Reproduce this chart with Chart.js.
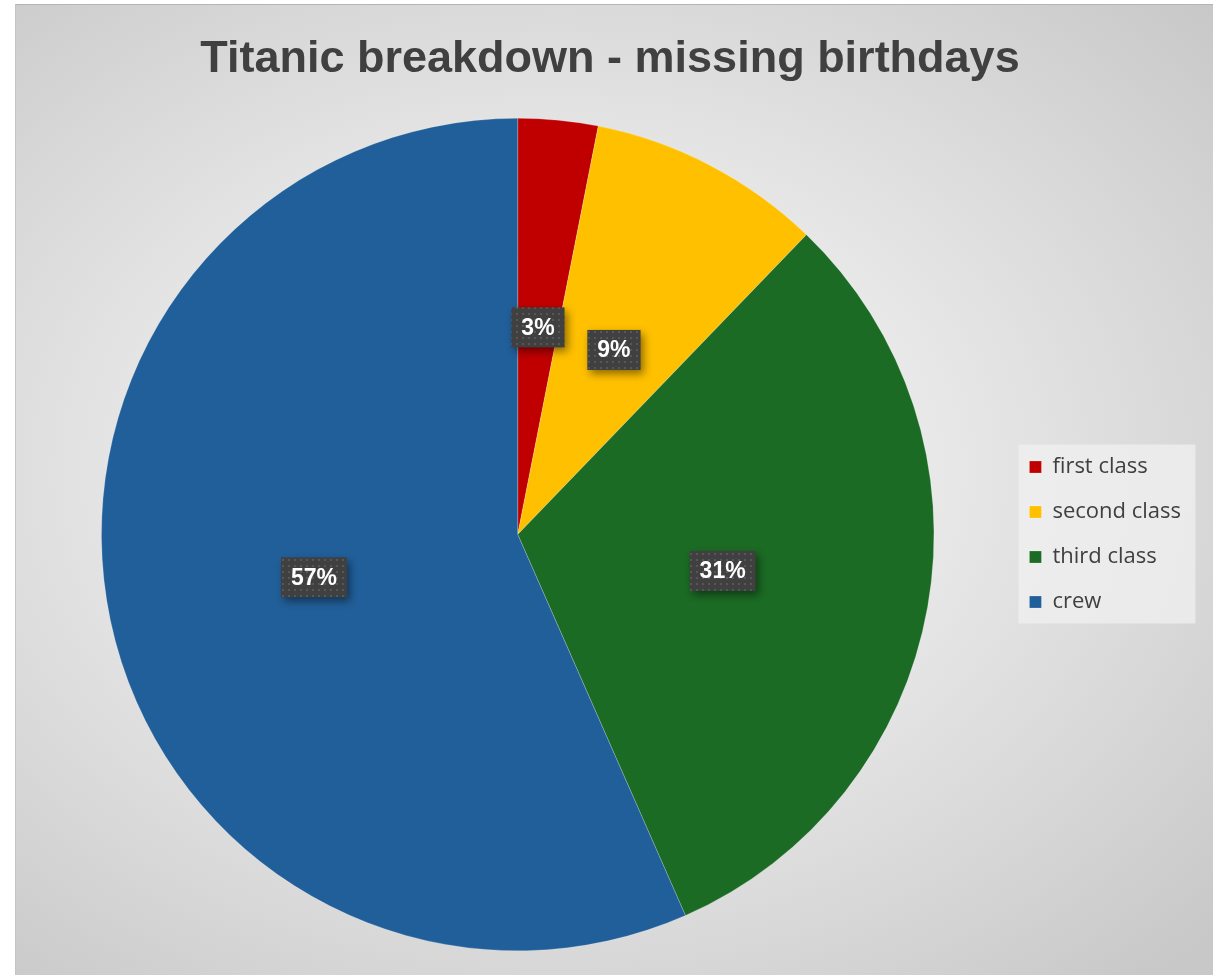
<!DOCTYPE html>
<html>
<head>
<meta charset="utf-8">
<script src="https://cdn.jsdelivr.net/npm/chart.js@4"></script>
<style>
  html, body { margin: 0; padding: 0; background: #fff; }
  #panel {
    position: absolute; left: 15px; top: 4px; width: 1198px; height: 971px;
    background: radial-gradient(ellipse 75% 70% at 45% 48%, #f4f4f4 0%, #ececec 35%, #d9d9d9 70%, #c8c8c8 100%);
    border-top: 1px solid #b4b4b4;
    border-left: 1px solid #c4c4c4;
    box-sizing: border-box;
  }
</style>
</head>
<body>
<div id="panel"><canvas id="pieChart"></canvas></div>
<script>
const categories = ['first class', 'second class', 'third class', 'crew'];
const shares = [3.1, 9.1, 31.2, 56.6];
const sliceColors = ['#C00000', '#FFC000', '#1B6B24', '#215F9A'];

// dotted dark fill for the value boxes
const tile = document.createElement('canvas');
tile.width = 6; tile.height = 6;
const tctx = tile.getContext('2d');
tctx.fillStyle = '#404040';
tctx.fillRect(0, 0, 6, 6);
tctx.fillStyle = '#575757';
tctx.fillRect(2, 2, 2, 2);

const legendBack = {
   id: 'legendBack',
   beforeDraw(chart) {
      const lg = chart.legend;
      if (!lg) return;
      const ctx = chart.ctx;
      const cy = lg.top + lg.height / 2;
      ctx.save();
      ctx.fillStyle = 'rgba(240,240,240,0.75)';
      ctx.fillRect(lg.left + 12, cy - 90, 177, 179);
      ctx.restore();
   }
};

const valueBoxes = {
   id: 'valueBoxes',
   afterDatasetsDraw(chart) {
      const ctx = chart.ctx;
      const data = chart.data.datasets[0].data;
      const total = data.reduce((a, b) => a + b, 0);
      const pattern = ctx.createPattern(tile, 'repeat');
      ctx.save();
      ctx.font = 'bold 23px "Liberation Sans", Arial, sans-serif';
      ctx.textAlign = 'center';
      ctx.textBaseline = 'middle';
      chart.getDatasetMeta(0).data.forEach((arc, i) => {
         const p = arc.getCenterPoint();
         const txt = Math.round(data[i] / total * 100) + '%';
         const w = ctx.measureText(txt).width + 20;
         const h = 40;
         ctx.save();
         ctx.shadowColor = 'rgba(0,0,0,0.45)';
         ctx.shadowBlur = 8;
         ctx.shadowOffsetX = 3;
         ctx.shadowOffsetY = 4;
         ctx.fillStyle = pattern;
         ctx.fillRect(p.x - w / 2, p.y - h / 2, w, h);
         ctx.restore();
         ctx.fillStyle = '#ffffff';
         ctx.fillText(txt, p.x, p.y + 1);
      });
      ctx.restore();
   }
};

new Chart(document.getElementById('pieChart'), {
   type: 'pie',
   data: {
      labels: categories,
      datasets: [{
         data: shares,
         backgroundColor: sliceColors,
         borderColor: 'rgba(255,255,255,0.4)',
         borderWidth: 0.5
      }]
   },
   options: {
      responsive: true,
      maintainAspectRatio: false,
      animation: false,
      layout: {
         padding: { left: 13, right: 22, top: 0, bottom: 24 }
      },
      plugins: {
         title: {
            display: true,
            text: 'Titanic breakdown - missing birthdays',
            color: '#404040',
            font: { family: '"Liberation Sans", Arial, sans-serif', size: 45, weight: 'bold' },
            padding: { top: 28, bottom: 31 }
         },
         legend: {
            position: 'right',
            align: 'center',
            fullSize: false,
            labels: {
               color: '#404040',
               font: { family: '"Open Sans", sans-serif', size: 22 },
               boxWidth: 12,
               boxHeight: 12,
               padding: 23
            }
         },
         tooltip: { enabled: false }
      }
   },
   plugins: [legendBack, valueBoxes]
});
</script>
</body>
</html>
